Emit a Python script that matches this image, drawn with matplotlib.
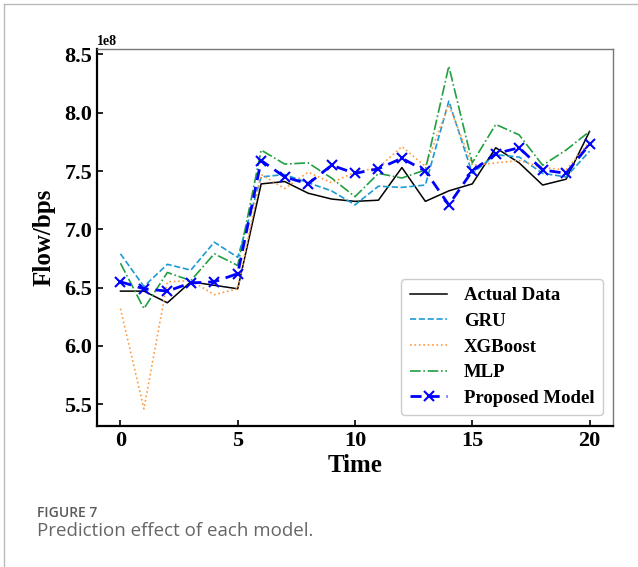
import numpy as np
import matplotlib
matplotlib.use("Agg")
import matplotlib.pyplot as plt
from matplotlib.lines import Line2D

time = np.arange(21)

# values in units of 1e8 bps
actual = [6.47, 6.47, 6.37, 6.55, 6.52, 6.49, 7.39, 7.41, 7.31, 7.26, 7.24,
          7.25, 7.53, 7.24, 7.33, 7.39, 7.70, 7.57, 7.38, 7.43, 7.84]
gru = [6.79, 6.51, 6.70, 6.65, 6.89, 6.76, 7.45, 7.47, 7.40, 7.33, 7.21,
       7.37, 7.36, 7.38, 8.10, 7.48, 7.64, 7.62, 7.48, 7.45, 7.67]
xgboost = [6.32, 5.46, 6.55, 6.56, 6.44, 6.49, 7.47, 7.35, 7.49, 7.40, 7.49,
           7.53, 7.71, 7.54, 8.07, 7.55, 7.57, 7.59, 7.53, 7.51, 7.75]
mlp = [6.71, 6.32, 6.63, 6.56, 6.79, 6.69, 7.68, 7.56, 7.57, 7.44, 7.28,
       7.48, 7.44, 7.51, 8.40, 7.57, 7.90, 7.81, 7.55, 7.68, 7.84]
proposed = [6.55, 6.49, 6.47, 6.54, 6.55, 6.62, 7.59, 7.45, 7.39, 7.55, 7.48,
            7.52, 7.61, 7.50, 7.21, 7.50, 7.65, 7.70, 7.51, 7.48, 7.73]

scale = 1e8
font = 'Liberation Serif'

fig = plt.figure(figsize=(6.38, 5.67), dpi=100)
ax = fig.add_axes([97 / 638, 1 - 426 / 567, (613 - 97) / 638, (426 - 49) / 567])

ax.plot(time, np.array(actual) * scale, color='black', lw=1.1, label='Actual Data')
ax.plot(time, np.array(gru) * scale, color='#1c9ad6', lw=1.2, ls='--', label='GRU')
ax.plot(time, np.array(xgboost) * scale, color='#ff9a3c', lw=1.2, ls=':', label='XGBoost')
ax.plot(time, np.array(mlp) * scale, color='#20a040', lw=1.2, ls='-.', label='MLP')
ax.plot(time, np.array(proposed) * scale, color='blue', lw=2, ls=(0, (4, 2.5)),
        marker='x', ms=7, mew=1.5, label='Proposed Model')

ax.set_xticks([0, 5, 10, 15, 20])
ax.set_yticks(np.arange(5.5, 8.51, 0.5) * scale)
ax.tick_params(direction='in', labelsize=16, width=1.2, length=4)
for lab in ax.get_xticklabels() + ax.get_yticklabels():
    lab.set_fontfamily(font)
    lab.set_fontweight('bold')
ax.yaxis.get_offset_text().set_fontfamily(font)
ax.yaxis.get_offset_text().set_fontweight('bold')
ax.yaxis.get_offset_text().set_fontsize(10)

ax.set_xlabel('Time', fontfamily=font, fontweight='bold', fontsize=18, labelpad=2)
ax.set_ylabel('Flow/bps', fontfamily=font, fontweight='bold', fontsize=18, labelpad=6)

for side in ['left', 'bottom']:
    ax.spines[side].set_linewidth(1.6)
    ax.spines[side].set_color('black')
for side in ['top', 'right']:
    ax.spines[side].set_linewidth(1.0)
    ax.spines[side].set_color('#777777')

ax.legend(loc='lower right', prop={'family': font, 'weight': 'bold', 'size': 13.5},
          handlelength=2.0, labelspacing=0.45, borderpad=0.45, handletextpad=0.9,
          borderaxespad=0, bbox_to_anchor=(0.981, 0.029), edgecolor='#cccccc',
          framealpha=1)

# outer frame of the figure panel
fig.add_artist(Line2D([4 / 638, 4 / 638], [0, 1 - 4 / 567], transform=fig.transFigure,
                      color='#bbbbbb', lw=1))
fig.add_artist(Line2D([4 / 638, 1], [1 - 4 / 567, 1 - 4 / 567], transform=fig.transFigure,
                      color='#bbbbbb', lw=1))

fig.text(37 / 638, 1 - 513 / 567, 'FIGURE 7', fontfamily='Open Sans', fontsize=10,
         fontweight='semibold', color='#5a5a5a', va='center')
fig.text(37 / 638, 1 - 531 / 567, 'Prediction effect of each model.', fontfamily='Open Sans',
         fontsize=13.5, color='#666666', va='center')

fig.savefig('out.png', dpi=100)
